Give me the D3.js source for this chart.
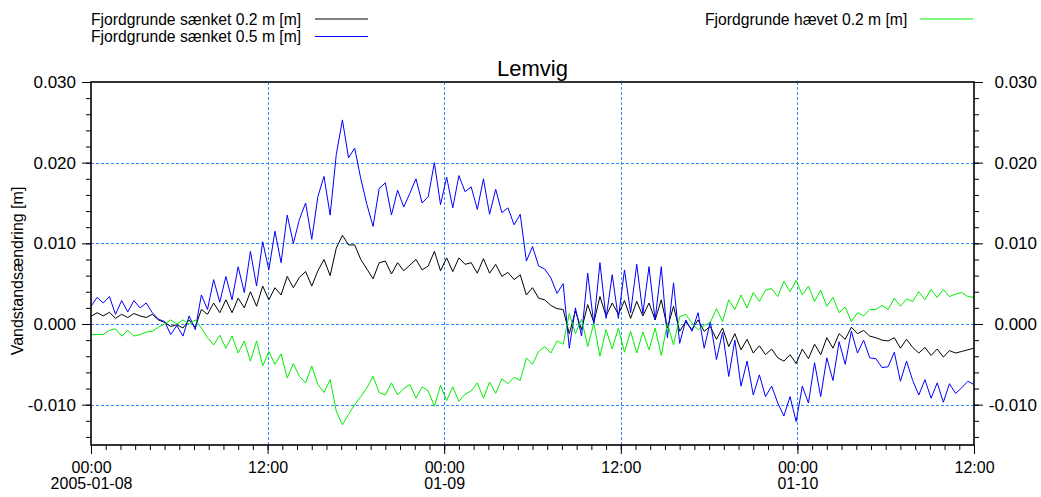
<!DOCTYPE html>
<html>
<head>
<meta charset="utf-8">
<script src="https://cdn.jsdelivr.net/npm/d3@7"></script>
<style>
  html, body { margin: 0; padding: 0; background: #fff; }
  svg { display: block; font-family: "Liberation Sans", Arial, sans-serif; }
</style>
</head>
<body>
<svg id="chart" width="1041" height="497"></svg>
<script>
// ---- Data (water level change, mm; 25-minute steps from 2005-01-08 00:00) ----
const startTime = "2005-01-08T00:00:00Z";
const stepMinutes = 25;
const spanHours = 60;

const seriesNames = [
  "Fjordgrunde sænket 0.2 m [m]",
  "Fjordgrunde sænket 0.5 m [m]",
  "Fjordgrunde hævet 0.2 m [m]"
];
const seriesColors = ["#000000", "#0000ff", "#00ee00"];

const saenket02_mm = [
  0.95, 1.4, 1.0, 1.45, 0.7, 1.2, 0.8, 1.3, 1.0, 0.8, 1.2, 0.5, 0.2, -0.3, -0.1, -0.5, 0.5, -0.4,
  1.8, 1.2, 2.6, 1.4, 3.0, 1.4, 3.2, 2.0, 4.0, 2.2, 4.7, 3.0, 4.5, 3.6, 5.9, 4.5,
  5.8, 6.5, 4.7, 6.6, 8.0, 6.0, 9.4, 11.0, 9.8, 9.8, 8.0, 6.8, 5.6, 7.6, 7.8, 6.2,
  7.6, 6.6, 7.3, 8.0, 6.7, 7.2, 9.0, 6.6, 8.2, 6.5, 8.2, 7.4, 7.6, 6.3, 8.1, 6.3, 7.4, 5.9, 6.4, 5.5, 6.1, 3.6, 4.5,
  3.2, 3.0, 2.3, 1.9, 1.8, -1.2, 1.6, -0.7, 2.4, 0.2, 3.4, 1.0, 2.6, 1.2, 2.9, 0.7, 2.8, 1.0, 2.6, 0.5, 3.0, -0.5, 2.2, -0.9,
  0.3, -0.7, 0.5, -0.9, -0.3, -1.9, -0.5, -2.8, -1.2, -3.2, -1.9, -3.6, -2.7, -3.8, -3.1, -4.2, -4.6, -3.8, -4.9, -3.1, -4.3, -2.5, -3.8, -1.7,
  -3.0, -1.2, -1.9, -0.4, -1.2, -0.8, -1.5, -1.7, -2.0, -2.1, -1.7, -3.0, -1.9, -2.9, -3.6, -2.9, -3.9, -3.1, -4.1, -3.3, -3.6, -3.4, -3.2, -3.0
];

const saenket05_mm = [
  2.2, 3.3, 2.6, 3.4, 1.2, 2.9, 1.5, 2.9, 2.0, 2.6, 1.4, 0.6, 0.3, -1.3, -0.2, -1.5, 1.0, -0.7,
  3.6, 1.8, 5.5, 2.7, 5.9, 3.0, 7.1, 3.9, 9.0, 4.7, 10.2, 6.7, 11.5, 7.6, 13.5, 10.0,
  13.0, 15.0, 10.5, 15.8, 18.3, 13.5, 21.0, 25.3, 20.6, 21.8, 18.0, 14.8, 12.1, 16.8, 17.5, 13.5,
  16.6, 14.5, 16.2, 18.0, 15.0, 15.8, 20.0, 14.8, 18.2, 14.4, 18.4, 16.4, 17.0, 14.2, 18.0, 13.6, 16.7, 13.8, 14.4, 12.3, 13.6, 7.8, 9.6,
  7.2, 6.8, 5.7, 3.8, 5.0, -3.0, 2.0, -1.5, 6.3, 0.0, 7.6, 0.7, 6.1, 0.7, 6.7, 1.4, 7.4, 1.3, 7.1, 0.5, 7.1, -1.7, 5.1, -2.4,
  0.5, -0.9, 1.4, -3.0, 0.3, -4.4, -1.0, -6.5, -2.0, -7.7, -4.6, -8.8, -6.3, -9.0, -7.7, -9.8, -11.4, -9.0, -12.1, -7.7, -9.8, -4.8, -9.0, -4.2,
  -7.0, -2.2, -5.0, -0.9, -3.6, -2.0, -4.2, -4.3, -5.4, -5.3, -3.5, -7.1, -4.6, -7.0, -8.8, -6.9, -9.2, -7.3, -9.7, -7.4, -8.6, -7.9, -7.1, -7.5
];

const haevet02_mm = [
  -1.3, -1.3, -1.3, -0.8, -0.6, -1.5, -0.8, -1.5, -1.3, -1.0, -0.9, -0.4, 0.0, 0.5, 0.0, 0.5, 0.0, 0.5,
  -0.5, -1.7, -2.6, -1.4, -3.0, -1.5, -3.6, -2.1, -4.6, -2.1, -5.2, -3.4, -5.0, -3.7, -6.7, -4.9,
  -6.5, -7.3, -5.2, -7.5, -8.5, -6.9, -10.8, -12.5, -11.2, -10.0, -9.0, -7.9, -6.5, -8.5, -8.8, -7.3,
  -8.8, -8.0, -7.5, -9.2, -7.8, -8.3, -10.2, -7.6, -9.5, -7.8, -9.6, -8.7, -8.3, -7.3, -9.2, -7.2, -8.6, -6.8, -7.4, -6.6, -7.0, -4.2, -5.0,
  -3.4, -2.8, -3.6, -2.1, -2.5, 1.3, -1.2, 0.6, -2.8, 0.1, -4.0, -0.7, -3.1, -0.5, -3.5, -0.9, -3.6, -1.0, -3.2, -0.5, -3.9, 0.1, -2.6, 0.9,
  1.2, 0.1, -0.7, -0.2, 0.2, 1.9, 0.3, 3.0, 1.8, 3.6, 2.0, 3.9, 2.8, 4.2, 4.4, 3.4, 5.3, 4.0, 5.4, 3.6, 4.7, 2.8, 4.2, 2.2,
  3.3, 1.4, 2.1, 0.3, 1.4, 1.0, 1.8, 1.8, 2.3, 1.8, 3.2, 2.2, 3.1, 2.8, 4.0, 3.0, 4.3, 3.3, 4.3, 3.4, 3.7, 3.9, 3.4, 3.3
];

const yTickValues = [-0.010, 0.000, 0.010, 0.020, 0.030];
const xTickLabels = [
  ["00:00", "2005-01-08"], ["12:00", ""], ["00:00", "01-09"],
  ["12:00", ""], ["00:00", "01-10"], ["12:00", ""]
];
const titleText = "Lemvig";
const yAxisTitle = "Vandstandsændring [m]";

// ---- Layout ----
const svg = d3.select("#chart");
const plot = { left: 91, right: 974, top: 82, bottom: 445 };
const gridColor = "#2a8cff";
const font = "Liberation Sans, Arial, sans-serif";

const t0 = new Date(startTime);
const t1 = new Date(t0.getTime() + spanHours * 3600000);
const times = saenket02_mm.map((_, i) => new Date(t0.getTime() + i * stepMinutes * 60000));

const x = d3.scaleUtc().domain([t0, t1]).range([plot.left, plot.right]);
const y = d3.scaleLinear().domain([-0.015, 0.030]).range([plot.bottom, plot.top]);

const majorTimes = d3.utcHour.every(12).range(t0, new Date(t1.getTime() + 1));
const minorTimes = d3.utcHour.every(1).range(t0, new Date(t1.getTime() + 1));
const minorY = d3.range(-14, 31, 2).map(v => v / 1000);

// Grid lines (interior only)
const grid = svg.append("g");
grid.selectAll("line.gx").data(majorTimes.slice(1, -1)).join("line")
  .attr("x1", d => Math.round(x(d)) + 0.5).attr("x2", d => Math.round(x(d)) + 0.5)
  .attr("y1", plot.top).attr("y2", plot.bottom)
  .attr("stroke", gridColor).attr("stroke-width", 1).attr("stroke-dasharray", "3,2");
grid.selectAll("line.gy").data(yTickValues.filter(v => v > -0.015 && v < 0.03)).join("line")
  .attr("x1", plot.left).attr("x2", plot.right)
  .attr("y1", d => Math.round(y(d)) + 0.5).attr("y2", d => Math.round(y(d)) + 0.5)
  .attr("stroke", gridColor).attr("stroke-width", 1).attr("stroke-dasharray", "3,2");

// Series lines
const seriesData = [saenket02_mm, saenket05_mm, haevet02_mm];
const line = d3.line().x((d, i) => x(times[i])).y(d => y(d / 1000));
svg.append("clipPath").attr("id", "clip").append("rect")
  .attr("x", plot.left).attr("y", plot.top)
  .attr("width", plot.right - plot.left).attr("height", plot.bottom - plot.top);
const linesG = svg.append("g").attr("clip-path", "url(#clip)");
[0, 1, 2].forEach(s => {
  linesG.append("path").datum(seriesData[s])
    .attr("d", line).attr("fill", "none")
    .attr("stroke", seriesColors[s]).attr("stroke-width", 1);
});

// Axes
const fmtY = d => d.toFixed(3);
const styleAxis = g => {
  g.select(".domain").remove();
  g.selectAll("line").attr("stroke", "#000");
  g.selectAll("text").attr("fill", "#000");
};
svg.append("g").attr("transform", `translate(${plot.left},0)`)
  .call(d3.axisLeft(y).tickValues(minorY).tickSize(5).tickFormat(""))
  .call(styleAxis);
svg.append("g").attr("transform", `translate(${plot.left},0)`)
  .call(d3.axisLeft(y).tickValues(yTickValues).tickSize(9).tickPadding(6).tickFormat(fmtY))
  .call(styleAxis)
  .selectAll("text").attr("font-size", 17).attr("font-family", font);
svg.append("g").attr("transform", `translate(${plot.right},0)`)
  .call(d3.axisRight(y).tickValues(minorY).tickSize(5).tickFormat(""))
  .call(styleAxis);
const rightMajor = svg.append("g").attr("transform", `translate(${plot.right},0)`)
  .call(d3.axisRight(y).tickValues(yTickValues).tickSize(9).tickPadding(12).tickFormat(fmtY))
  .call(styleAxis);
rightMajor.selectAll("text").attr("font-size", 17).attr("font-family", font)
  .attr("text-anchor", "end").attr("x", 1037 - plot.right);

svg.append("g").attr("transform", `translate(0,${plot.bottom})`)
  .call(d3.axisBottom(x).tickValues(minorTimes).tickSize(5).tickFormat(""))
  .call(styleAxis);
const xMajor = svg.append("g").attr("transform", `translate(0,${plot.bottom})`)
  .call(d3.axisBottom(x).tickValues(majorTimes).tickSize(9).tickFormat(""))
  .call(styleAxis);
xMajor.selectAll("g.tick").each(function(d, i) {
  const g = d3.select(this);
  const lab = xTickLabels[i] || ["", ""];
  g.append("text").attr("y", 28).attr("text-anchor", "middle")
    .attr("font-size", 16).attr("font-family", font).attr("fill", "#000").text(lab[0]);
  if (lab[1]) g.append("text").attr("y", 44).attr("text-anchor", "middle")
    .attr("font-size", 16).attr("font-family", font).attr("fill", "#000").text(lab[1]);
});

// Frame
svg.append("rect")
  .attr("x", plot.left).attr("y", plot.top)
  .attr("width", plot.right - plot.left).attr("height", plot.bottom - plot.top)
  .attr("fill", "none").attr("stroke", "#000").attr("stroke-width", 1.6);

// Title
svg.append("text").attr("x", (plot.left + plot.right) / 2).attr("y", 76)
  .attr("text-anchor", "middle").attr("font-size", 22).text(titleText);

// Y axis title
svg.append("text").attr("transform", "translate(23,271) rotate(-90)")
  .attr("text-anchor", "middle").attr("font-size", 16).text(yAxisTitle);

// Legend
const legendItems = [
  { name: seriesNames[0], color: seriesColors[0], tx: 91, ty: 25, lx1: 315, lx2: 368, ly: 19 },
  { name: seriesNames[1], color: seriesColors[1], tx: 91, ty: 42, lx1: 315, lx2: 368, ly: 36.5 },
  { name: seriesNames[2], color: seriesColors[2], tx: 705, ty: 25, lx1: 920, lx2: 973, ly: 19 }
];
const leg = svg.append("g");
legendItems.forEach(it => {
  leg.append("text").attr("x", it.tx).attr("y", it.ty).attr("font-size", 15.7).text(it.name);
  leg.append("line").attr("x1", it.lx1).attr("x2", it.lx2).attr("y1", it.ly).attr("y2", it.ly)
    .attr("stroke", it.color).attr("stroke-width", 1);
});
</script>
</body>
</html>
